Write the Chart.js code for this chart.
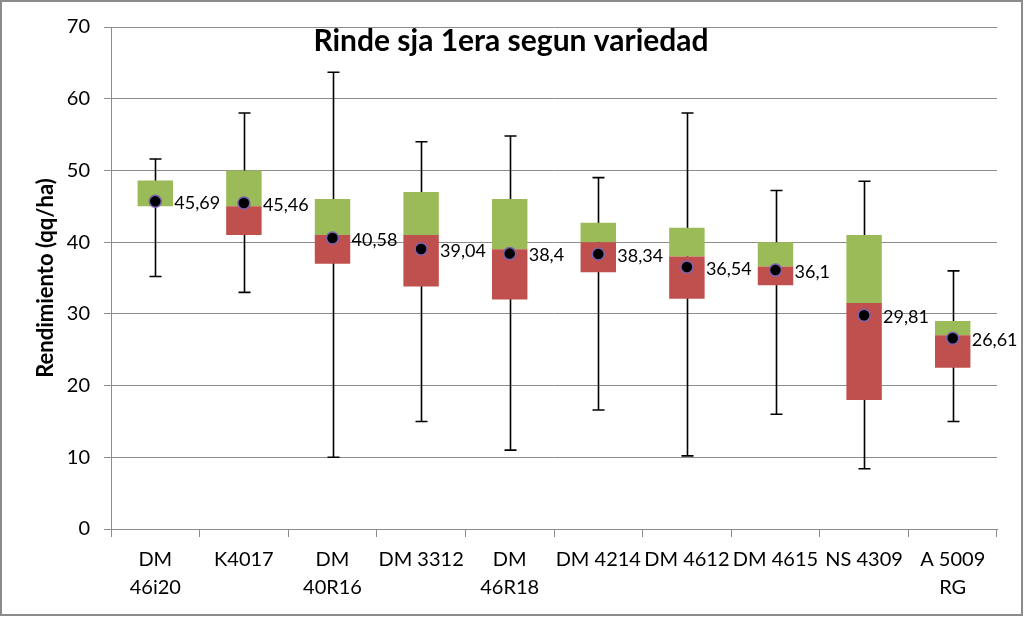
<!DOCTYPE html>
<html>
<head>
<meta charset="utf-8">
<script src="https://cdn.jsdelivr.net/npm/chart.js@4/dist/chart.umd.min.js"></script>
<style>
  html, body { margin: 0; padding: 0; background: #fff; }
  #wrap { width: 1024px; height: 617px; }
</style>
</head>
<body>
<div id="wrap"><canvas id="rindeChart" width="1024" height="617"></canvas></div>
<script>
/* ===== DATA ===== */
const variedades = [["DM", "46i20"], "K4017", ["DM", "40R16"], "DM 3312", ["DM", "46R18"],
    "DM 4214", "DM 4612", "DM 4615", "NS 4309", ["A 5009", "RG"]];
const minimos   = [35.2, 33.0, 10.0, 15.0, 11.0, 16.6, 10.2, 16.0,  8.4, 15.0];
const cuartil1  = [45.0, 41.0, 37.0, 33.8, 32.0, 35.8, 32.1, 34.0, 18.0, 22.5];
const medianas  = [45.0, 45.0, 41.0, 41.0, 39.0, 40.0, 38.0, 36.6, 31.5, 27.0];
const cuartil3  = [48.6, 50.0, 46.0, 47.0, 46.0, 42.7, 42.0, 40.0, 41.0, 29.0];
const maximos   = [51.6, 58.0, 63.7, 54.0, 54.8, 49.0, 58.0, 47.2, 48.5, 36.0];
const promedios = [45.69, 45.46, 40.58, 39.04, 38.4, 38.34, 36.54, 36.1, 29.81, 26.61];
const yTicks = [0, 10, 20, 30, 40, 50, 60, 70];

const FONT = "Lato";

/* ===== PLUGINS ===== */
// bigotes (min-max) dibujados detras de las cajas
const whiskers = {
    id: "whiskers",
    beforeDatasetsDraw(chart) {
        const { ctx, scales: { x, y } } = chart;
        ctx.save();
        ctx.strokeStyle = "#000";
        ctx.lineWidth = 1.6;
        minimos.forEach((mn, i) => {
            const px = Math.round(x.getPixelForValue(i)) + 0.5;
            const top = y.getPixelForValue(maximos[i]);
            const bot = y.getPixelForValue(mn);
            ctx.beginPath();
            ctx.moveTo(px, top); ctx.lineTo(px, bot);
            ctx.moveTo(px - 6, top); ctx.lineTo(px + 6, top);
            ctx.moveTo(px - 6, bot); ctx.lineTo(px + 6, bot);
            ctx.stroke();
        });
        ctx.restore();
    }
};

// etiquetas de promedio + titulo + marco
const extras = {
    id: "extras",
    afterDatasetsDraw(chart) {
        const { ctx } = chart;
        const meta = chart.getDatasetMeta(2);
        ctx.save();
        ctx.fillStyle = "#000";
        ctx.font = `18px ${FONT}`;
        ctx.textBaseline = "middle";
        ctx.textAlign = "left";
        meta.data.forEach((pt, i) => {
            ctx.fillText(String(promedios[i]).replace(".", ","), pt.x + 19, pt.y + 2);
        });
        ctx.restore();
    },
    afterDraw(chart) {
        const { ctx } = chart;
        ctx.save();
        ctx.fillStyle = "#000";
        ctx.font = `bold 30px ${FONT}`;
        ctx.textAlign = "center";
        ctx.textBaseline = "middle";
        ctx.fillText("Rinde sja 1era segun variedad", 511, 41);
        ctx.strokeStyle = "#8c8c8c";
        ctx.lineWidth = 2;
        ctx.strokeRect(1, 1, 1021, 614);
        ctx.restore();
    }
};

/* ===== CHART ===== */
new Chart(document.getElementById("rindeChart"), {
    type: "bar",
    data: {
        labels: variedades,
        datasets: [
            {
                label: "Q1-Mediana",
                data: cuartil1.map((q, i) => [q, medianas[i]]),
                backgroundColor: "#c0504d",
                grouped: false,
                barPercentage: 0.4,
                categoryPercentage: 1,
                order: 2
            },
            {
                label: "Mediana-Q3",
                data: medianas.map((m, i) => [m, cuartil3[i]]),
                backgroundColor: "#9bbb59",
                grouped: false,
                barPercentage: 0.4,
                categoryPercentage: 1,
                order: 2
            },
            {
                type: "line",
                label: "Promedio",
                data: promedios,
                showLine: false,
                pointRadius: 6,
                pointBackgroundColor: "#000",
                pointBorderColor: "#7a62b0",
                pointBorderWidth: 1.5,
                order: 1
            }
        ]
    },
    options: {
        responsive: false,
        animation: false,
        layout: { padding: { top: 27, right: 27, left: 0, bottom: 0 } },
        plugins: {
            legend: { display: false },
            tooltip: { enabled: false }
        },
        scales: {
            x: {
                offset: true,
                grid: { offset: true, drawOnChartArea: false, color: "#8c8c8c", tickLength: 8 },
                border: { color: "#8c8c8c" },
                ticks: { color: "#000", font: { family: FONT, size: 20, lineHeight: 1.4 }, maxRotation: 0, autoSkip: false, padding: 9 },
                afterFit: s => { s.height = 88; }
            },
            y: {
                min: 0, max: 70,
                afterBuildTicks: s => { s.ticks = yTicks.map(v => ({ value: v })); },
                grid: { color: "#8c8c8c", tickLength: 7 },
                border: { color: "#8c8c8c" },
                ticks: { color: "#000", font: { family: FONT, size: 20 }, padding: 14 },
                title: {
                    display: true,
                    text: "Rendimiento (qq/ha)",
                    color: "#000",
                    font: { family: FONT, size: 22, weight: "bold" },
                    padding: { top: 33, bottom: 0 }
                },
                afterFit: s => { s.width = 111; }
            }
        }
    },
    plugins: [whiskers, extras]
});
</script>
</body>
</html>
